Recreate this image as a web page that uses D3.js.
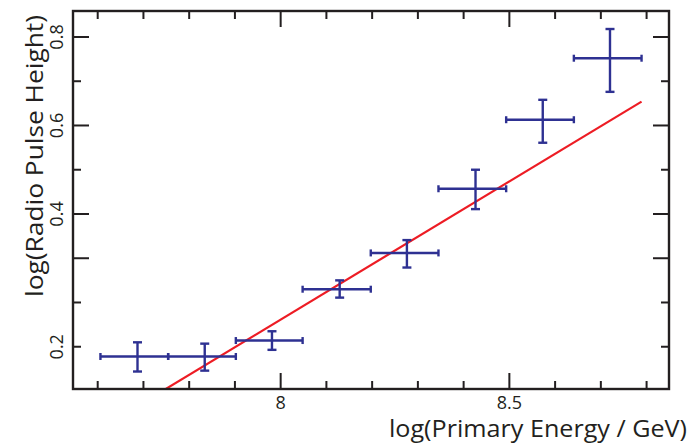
<!DOCTYPE html>
<meta charset="utf-8">
<head>
<script src="https://d3js.org/d3.v7.min.js"></script>
<style>
  body { margin: 0; background: #fff; }
  text { font-family: "Open Sans", "Noto Sans", sans-serif; fill: #231f20; }
</style>
</head>
<body>
<div id="chart"></div>
<script>

// bins in log(E), centre of each bin and its edges
var energyCenter = [7.687, 7.834, 7.981, 8.129, 8.276, 8.426, 8.573, 8.720];
var energyLow    = [7.606, 7.754, 7.902, 8.048, 8.197, 8.345, 8.493, 8.641];
var energyHigh   = [7.754, 7.902, 8.048, 8.197, 8.345, 8.493, 8.641, 8.789];

// pulse height (axis units) and its error range
var pulse     = [0.078, 0.078, 0.114, 0.230, 0.312, 0.457, 0.613, 0.752];
var pulseLow  = [0.044, 0.046, 0.093, 0.211, 0.279, 0.411, 0.561, 0.676];
var pulseHigh = [0.110, 0.107, 0.135, 0.250, 0.341, 0.500, 0.658, 0.818];

// straight line fit: y = slope * x + intercept
var fitSlope = 0.6243, fitIntercept = -4.833;
var fitRange = [7.70, 8.789];

// axis ticks
var xMajor = [8, 8.5];
var xMinor = [7.6, 7.7, 7.8, 7.9, 8.1, 8.2, 8.3, 8.4, 8.6, 8.7, 8.8];
var yMajor = [0.3, 0.4, 0.6, 0.8];
var yMinor = [0.1, 0.2, 0.5, 0.7];
var yLabelAt = [0.1, 0.4, 0.6, 0.8];
var yLabelText = ["0.2", "0.4", "0.6", "0.8"];

var W = 691, H = 444;
var margin = {top: 11, right: 22, bottom: 55, left: 73};
var width = W - margin.left - margin.right,
    height = H - margin.top - margin.bottom;

var svg = d3.select("#chart").append("svg")
    .attr("width", W).attr("height", H);
var g = svg.append("g")
    .attr("transform", "translate(" + margin.left + "," + margin.top + ")");

var x = d3.scaleLinear().domain([7.546, 8.849]).range([0, width]);
var y = d3.scaleLinear().domain([0.0045, 0.8587]).range([height, 0]);

var ink = "#231f20", blue = "#2e3192", red = "#ed1c24";

g.append("clipPath").attr("id", "clip")
  .append("rect").attr("width", width).attr("height", height);

// fit line
g.append("line")
    .attr("clip-path", "url(#clip)")
    .attr("x1", x(fitRange[0])).attr("y1", y(fitSlope * fitRange[0] + fitIntercept))
    .attr("x2", x(fitRange[1])).attr("y2", y(fitSlope * fitRange[1] + fitIntercept))
    .attr("stroke", red).attr("stroke-width", 2.2);

// error bars
var pts = energyCenter.map(function(e, i) {
  return {x: e, lo: energyLow[i], hi: energyHigh[i], y: pulse[i], ylo: pulseLow[i], yhi: pulseHigh[i]};
});
var eb = g.selectAll(".pt").data(pts).enter().append("g")
    .attr("stroke", blue).attr("stroke-width", 2.4).attr("fill", "none");
eb.append("line")
    .attr("x1", function(d){ return x(d.lo); }).attr("x2", function(d){ return x(d.hi); })
    .attr("y1", function(d){ return y(d.y); }).attr("y2", function(d){ return y(d.y); });
eb.append("line")
    .attr("x1", function(d){ return x(d.x); }).attr("x2", function(d){ return x(d.x); })
    .attr("y1", function(d){ return y(d.ylo); }).attr("y2", function(d){ return y(d.yhi); });
// caps
["lo", "hi"].forEach(function(k) {
  eb.append("line")
    .attr("x1", function(d){ return x(d[k]); }).attr("x2", function(d){ return x(d[k]); })
    .attr("y1", function(d){ return y(d.y) - 3.5; }).attr("y2", function(d){ return y(d.y) + 3.5; });
});
["ylo", "yhi"].forEach(function(k) {
  eb.append("line")
    .attr("x1", function(d){ return x(d.x) - 4.5; }).attr("x2", function(d){ return x(d.x) + 4.5; })
    .attr("y1", function(d){ return y(d[k]); }).attr("y2", function(d){ return y(d[k]); });
});

// ticks on all four sides
var ticks = g.append("g").attr("stroke", ink).attr("stroke-width", 2);
function xt(vals, len) {
  vals.forEach(function(v) {
    ticks.append("line").attr("x1", x(v)).attr("x2", x(v)).attr("y1", height).attr("y2", height - len);
    ticks.append("line").attr("x1", x(v)).attr("x2", x(v)).attr("y1", 0).attr("y2", len);
  });
}
function yt(vals, len) {
  vals.forEach(function(v) {
    ticks.append("line").attr("y1", y(v)).attr("y2", y(v)).attr("x1", 0).attr("x2", len);
    ticks.append("line").attr("y1", y(v)).attr("y2", y(v)).attr("x1", width).attr("x2", width - len);
  });
}
xt(xMajor, 16); xt(xMinor, 8);
yt(yMajor, 16); yt(yMinor, 8);

// frame
g.append("rect").attr("width", width).attr("height", height)
    .attr("fill", "none").attr("stroke", ink).attr("stroke-width", 2.4);

// tick labels
g.selectAll(".xl").data(xMajor).enter().append("text")
    .attr("x", function(d){ return x(d); }).attr("y", height + 20)
    .attr("text-anchor", "middle").attr("font-size", 18)
    .text(function(d){ return d3.format("")(d); });

g.selectAll(".yl").data(yLabelAt).enter().append("text")
    .attr("transform", function(d){ return "translate(-10," + y(d) + ") rotate(-90)"; })
    .attr("text-anchor", "middle").attr("font-size", 18)
    .text(function(d, i){ return yLabelText[i]; });

// axis titles
svg.append("text")
    .attr("x", 389).attr("y", 437)
    .attr("font-size", 23).attr("textLength", 298).attr("lengthAdjust", "spacingAndGlyphs")
    .text("log(Primary Energy / GeV)");

svg.append("text")
    .attr("transform", "translate(43,297) rotate(-90)")
    .attr("font-size", 23).attr("textLength", 282).attr("lengthAdjust", "spacingAndGlyphs")
    .text("log(Radio Pulse Height)");

</script>
</body>
